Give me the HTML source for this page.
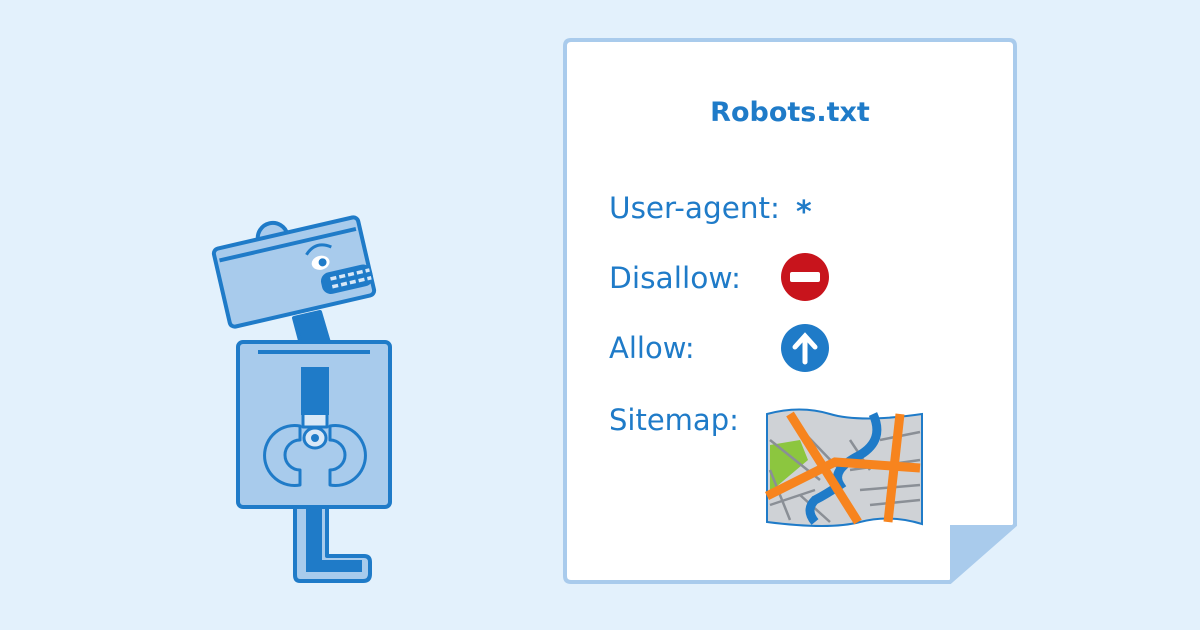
<!DOCTYPE html>
<html><head><style>
html,body{margin:0;padding:0;background:#e3f1fc;}
svg{display:block}
text{font-family:"DejaVu Sans","Liberation Sans",sans-serif;fill:#1f7bc8}
</style></head><body>
<svg width="1200" height="630" viewBox="0 0 1200 630" xmlns="http://www.w3.org/2000/svg">
<rect width="1200" height="630" fill="#e3f1fc"/>
<!-- document -->
<path d="M571,40 H1009 Q1015,40 1015,46 V525 L950,582 H571 Q565,582 565,576 V46 Q565,40 571,40 Z" fill="#fff" stroke="#a9cbec" stroke-width="4"/>
<path d="M950,525 H1015 L950,582 Z" fill="#a9cbec"/>
<text x="790" y="121" font-size="27" font-weight="bold" text-anchor="middle">Robots.txt</text>
<text x="609" y="218" font-size="29" textLength="171" lengthAdjust="spacingAndGlyphs">User-agent:</text>
<text x="796" y="222" font-size="30" font-weight="bold">*</text>
<text x="609" y="288" font-size="29" textLength="132" lengthAdjust="spacingAndGlyphs">Disallow:</text>
<text x="609" y="358" font-size="29">Allow:</text>
<text x="609" y="430" font-size="29">Sitemap:</text>
<circle cx="805" cy="277" r="24" fill="#c8141c"/>
<rect x="790" y="272" width="30" height="10" rx="2" fill="#fff"/>
<circle cx="805" cy="348" r="24" fill="#1f7bc8"/>
<path d="M805,362 V338 M795,347 L805,336 L815,347" stroke="#fff" stroke-width="5" fill="none" stroke-linecap="round"/>
<!-- map -->
<g>
<path d="M767,414 Q800,405 830,414 T922,414 V524 Q890,514 860,522 T767,522 Z" fill="#cfd2d6" stroke="#1f7bc8" stroke-width="2"/>
<path d="M770,445 L800,440 L808,460 L770,492 Z" fill="#8cc63f"/>
<g stroke="#8a8f96" stroke-width="2.5" fill="none">
<path d="M770,440 L820,480 M790,418 L840,470 M770,470 L790,520 M800,495 L830,522 M850,470 L920,460 M860,490 L920,485 M880,440 L920,432 M870,505 L920,500 M850,440 L870,470 M770,505 L815,490"/>
</g>
<path d="M873,414 Q885,440 860,455 Q830,470 840,485 Q825,495 815,500 Q805,510 815,522" stroke="#1f7bc8" stroke-width="9" fill="none"/>
<g stroke="#f7841e" stroke-width="9" fill="none">
<path d="M790,414 L858,522"/>
<path d="M767,496 L835,462 L920,468"/>
<path d="M900,414 L888,522"/>
</g>
</g>
<!-- robot -->
<g stroke="#1f7bc8" stroke-width="4" stroke-linejoin="round">
<path d="M295,505 H327 V556 H364 Q370,556 370,562 V574 Q370,581 363,581 H300 Q295,581 295,575 Z" fill="#a8cbec"/>
<path d="M306,505 H322 V560 H362 V572 H306 Z" fill="#1f7bc8" stroke="none"/>
<path d="M294,318 L320,312 L330,346 L302,348 Z" fill="#1f7bc8"/>
<rect x="238" y="342" width="152" height="165" rx="5" fill="#a8cbec"/>
<line x1="258" y1="352" x2="370" y2="352"/>
<rect x="301" y="367" width="28" height="48" fill="#1f7bc8" stroke="none"/>
<path d="M303,415 V427 H327 V415" fill="#d8e8f7" stroke-width="3"/>
<path d="M300,440 A14,14 0 1 0 300,470 L300,485 A30,30 0 1 1 300,426 Z" fill="#a8cbec" stroke-width="3"/>
<path d="M330,440 A14,14 0 1 1 330,470 L330,485 A30,30 0 1 0 330,426 Z" fill="#a8cbec" stroke-width="3"/>
<ellipse cx="315" cy="438" rx="11" ry="10" fill="#d8e8f7" stroke-width="3"/>
<ellipse cx="315" cy="438" rx="4" ry="4" fill="#1f7bc8" stroke="none"/>
<g transform="rotate(-13 294 272)">
<circle cx="281" cy="234" r="15" fill="#a8cbec"/>
<rect x="220" y="232" width="148" height="80" rx="5" fill="#a8cbec"/>
<line x1="224" y1="244" x2="364" y2="244"/>
<path d="M310,258 Q322,246 336,256" fill="none" stroke-width="3"/>
<ellipse cx="322" cy="269" rx="9" ry="7" fill="#fff" stroke="none"/>
<circle cx="324" cy="269" r="4" fill="#1f7bc8" stroke="none"/>
<rect x="318" y="280" width="52" height="22" rx="9" fill="#1f7bc8" stroke="none"/>
<path d="M328,287 H368 M328,295 H368" stroke="#d8e8f7" stroke-width="3.5" stroke-dasharray="6 3"/>
</g>
</g>
</svg>
</body></html>
